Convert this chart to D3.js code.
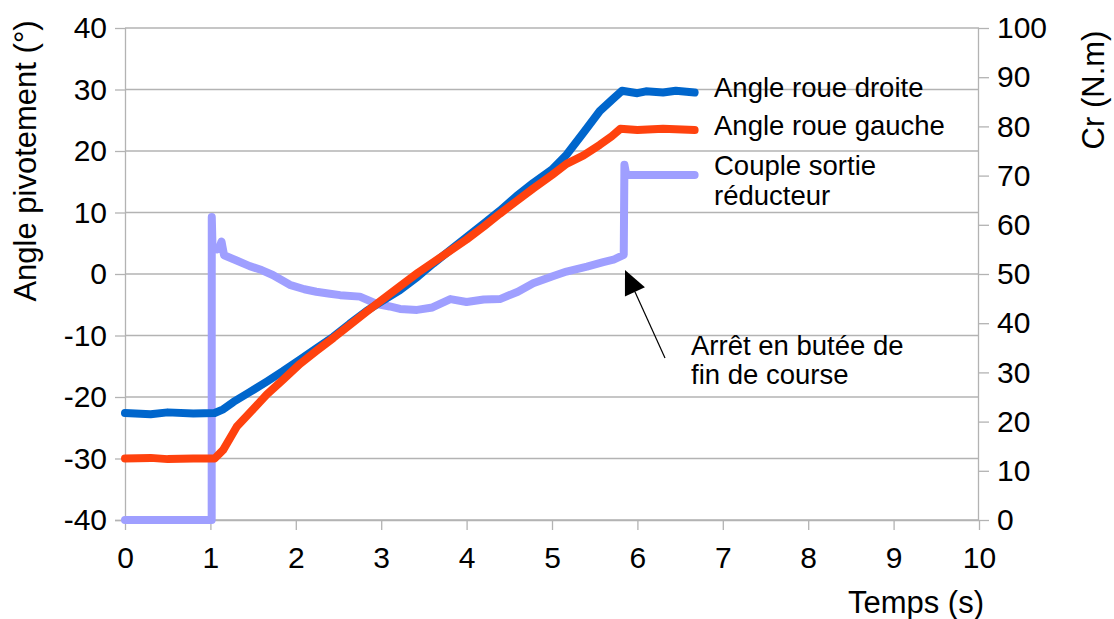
<!DOCTYPE html>
<html><head><meta charset="utf-8">
<script src="https://cdn.jsdelivr.net/npm/d3@7"></script>
<style>
body{margin:0;background:#fff;}
text{font-family:"Liberation Sans",Arial,sans-serif;fill:#000;}
</style></head>
<body><svg id="c" width="1114" height="619"></svg>
<script>
// ---- data ----
const xTicks = [0,1,2,3,4,5,6,7,8,9,10];
const leftTicks = [-40,-30,-20,-10,0,10,20,30,40];
const rightTicks = [0,10,20,30,40,50,60,70,80,90,100];

const droiteT = [0,0.3,0.5,0.8,1.05,1.15,1.27,1.45,1.66,1.85,2.05,2.25,2.44,2.63,2.83,3.0,3.22,3.43,3.61,3.8,4.0,4.2,4.39,4.58,4.78,5.0,5.17,5.37,5.56,5.7,5.82,6.0,6.1,6.3,6.45,6.67];
const droiteV = [-22.6,-22.8,-22.5,-22.7,-22.6,-22.0,-20.8,-19.3,-17.5,-15.8,-13.9,-12.0,-10.2,-8.1,-6.0,-4.5,-2.6,-0.4,1.7,3.8,6.0,8.2,10.3,12.6,14.8,17.0,19.4,23.0,26.5,28.3,29.8,29.4,29.7,29.5,29.8,29.5];

const gaucheT = [0,0.3,0.5,0.8,1.05,1.15,1.31,1.5,1.66,1.85,2.05,2.25,2.44,2.63,2.83,3.0,3.22,3.43,3.61,3.8,4.0,4.2,4.39,4.58,4.78,5.0,5.17,5.37,5.56,5.7,5.80,6.0,6.3,6.67];
const gaucheV = [-30.0,-29.9,-30.1,-30.0,-30.0,-28.6,-24.8,-22.0,-19.6,-17.2,-14.6,-12.4,-10.4,-8.3,-6.1,-4.3,-2.0,0.2,1.9,3.7,5.6,7.7,9.8,11.8,13.9,16.1,17.9,19.3,21.0,22.4,23.6,23.4,23.6,23.4];

const coupleT = [0,0.5,1.0,1.015,1.016,1.025,1.08,1.11,1.13,1.16,1.3,1.46,1.6,1.73,1.93,2.1,2.24,2.4,2.52,2.75,2.95,3.1,3.22,3.42,3.6,3.81,4.0,4.2,4.39,4.6,4.78,5.0,5.17,5.41,5.6,5.72,5.84,5.848,5.87,6.2,6.67];
const coupleV = [0,0,0,0,61.6,55.3,55.0,55.6,56.6,53.8,52.8,51.6,50.8,49.8,47.8,46.9,46.4,46.0,45.7,45.4,43.9,43.4,42.9,42.7,43.2,44.9,44.3,44.8,44.9,46.4,48.1,49.5,50.5,51.5,52.4,52.9,53.9,72.2,70.1,70.1,70.1];

const seriesNames = ["Angle roue droite","Angle roue gauche","Couple sortie","réducteur"];
const colors = {droite:"#0066cc", gauche:"#ff420e", couple:"#9f9fff"};

// ---- layout ----
const svg = d3.select("#c");
const x = d3.scaleLinear().domain([0,10]).range([125,979]);
const yL = d3.scaleLinear().domain([-40,40]).range([520,28]);
const yR = d3.scaleLinear().domain([0,100]).range([520,28]);
const gridC = "#b3b3b3";
const fmt = d => String(d);

// gridlines
svg.append("g").selectAll("line").data(leftTicks).join("line")
  .attr("x1",125).attr("x2",979).attr("y1",d=>yL(d)).attr("y2",d=>yL(d))
  .attr("stroke",gridC).attr("stroke-width",1.3);

// axes
const fs = 30;
const axL = svg.append("g").attr("transform","translate(125,0)")
  .call(d3.axisLeft(yL).tickValues(leftTicks).tickFormat(fmt).tickSize(10).tickPadding(8));
const axR = svg.append("g").attr("transform","translate(979,0)")
  .call(d3.axisRight(yR).tickValues(rightTicks).tickFormat(fmt).tickSize(10).tickPadding(8));
const axB = svg.append("g").attr("transform","translate(0,520)")
  .call(d3.axisBottom(x).tickValues(xTicks).tickFormat(fmt).tickSize(10).tickPadding(17));
[axL,axR,axB].forEach(a=>{
  a.select(".domain").attr("stroke",gridC).attr("stroke-width",1.3);
  a.selectAll(".tick line").attr("stroke",gridC).attr("stroke-width",1.3);
  a.selectAll(".tick text").attr("font-size",fs).attr("font-family","Liberation Sans, Arial, sans-serif").attr("fill","#000");
});
axB.select(".domain").attr("d","M125,0.5H979");
axL.select(".domain").attr("d","M-10,520.5H0.5V28");
axR.select(".domain").attr("d","M-0.5,520V28");

// axis titles
const tfs = 31;
svg.append("text").attr("transform","translate(36,161) rotate(-90)")
  .attr("text-anchor","middle").attr("font-size",tfs).text("Angle pivotement (°)");
svg.append("text").attr("transform","translate(1104,90) rotate(-90)")
  .attr("text-anchor","middle").attr("font-size",tfs).text("Cr (N.m)");
svg.append("text").attr("x",984).attr("y",613).attr("text-anchor","end")
  .attr("font-size",tfs).text("Temps (s)");

// lines
function drawLine(T,V,ys,col){
  const pts = T.map((t,i)=>[x(t),ys(V[i])]);
  svg.append("path").attr("d",d3.line()(pts)).attr("fill","none")
    .attr("stroke",col).attr("stroke-width",8)
    .attr("stroke-linejoin","round").attr("stroke-linecap","round");
}
drawLine(coupleT,coupleV,yR,colors.couple);
drawLine(droiteT,droiteV,yL,colors.droite);
drawLine(gaucheT,gaucheV,yL,colors.gauche);

// legend texts
const lfs = 27.5;
svg.append("text").attr("x",714).attr("y",97).attr("font-size",lfs).text(seriesNames[0]);
svg.append("text").attr("x",714).attr("y",135).attr("font-size",lfs).text(seriesNames[1]);
svg.append("text").attr("x",714).attr("y",175).attr("font-size",lfs).text(seriesNames[2]);
svg.append("text").attr("x",714).attr("y",205).attr("font-size",lfs).text(seriesNames[3]);

// annotation
svg.append("text").attr("x",691).attr("y",355).attr("font-size",lfs).text("Arrêt en butée de");
svg.append("text").attr("x",691).attr("y",384).attr("font-size",lfs).text("fin de course");
const tail=[665,358], tip=[625,270];
const dx=tip[0]-tail[0], dy=tip[1]-tail[1], L=Math.hypot(dx,dy);
const ux=dx/L, uy=dy/L, px=-uy, py=ux, hl=24, hw=11;
const bx=tip[0]-ux*hl, by=tip[1]-uy*hl;
svg.append("line").attr("x1",tail[0]).attr("y1",tail[1]).attr("x2",bx).attr("y2",by)
  .attr("stroke","#000").attr("stroke-width",1.2);
svg.append("path").attr("d",`M${tip[0]},${tip[1]}L${bx+px*hw},${by+py*hw}L${bx-px*hw},${by-py*hw}Z`)
  .attr("fill","#000");
</script></body></html>
